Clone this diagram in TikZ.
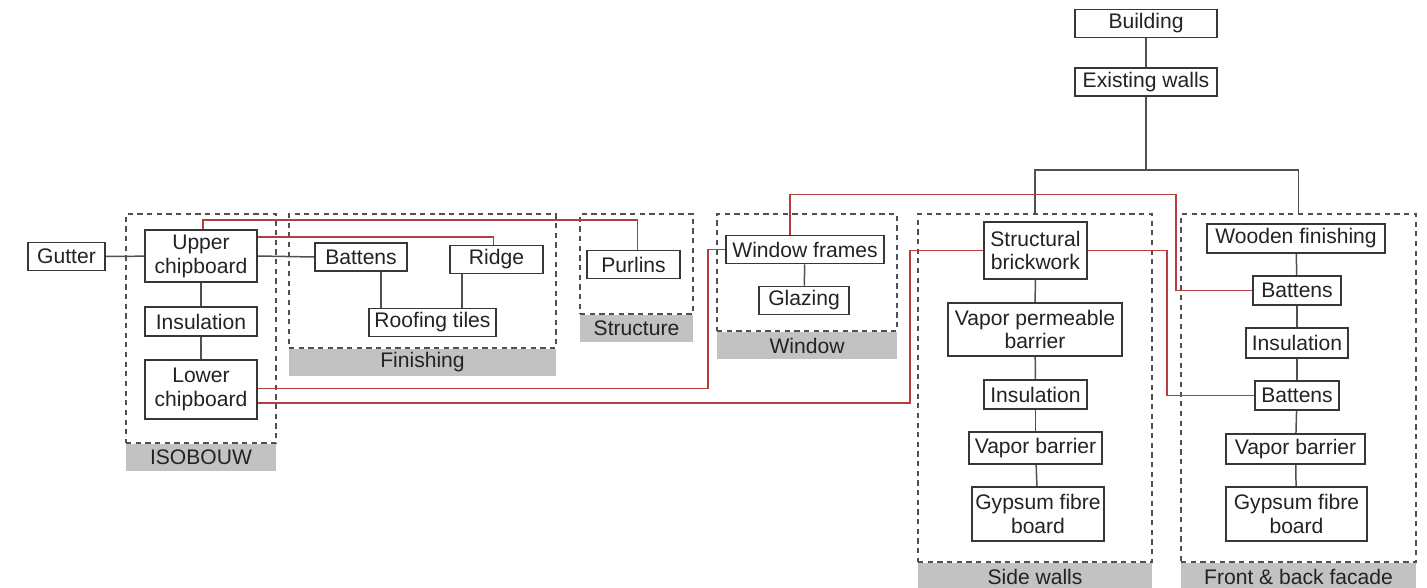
\documentclass[tikz,border=0pt]{standalone}
\usepackage{fontspec}
\setmainfont{Liberation Sans}
\usetikzlibrary{calc}
\definecolor{boxgray}{RGB}{55,55,55}
\definecolor{linkgray}{RGB}{80,80,80}
\definecolor{linkred}{RGB}{180,62,60}
\definecolor{tabgray}{RGB}{194,194,194}
\definecolor{txtdark}{RGB}{35,35,35}
\tikzset{
  box/.style={rectangle, draw=boxgray, fill=white, text=txtdark,
    align=center, inner sep=0pt, minimum height=0.56cm,
    font=\fontsize{12}{13.6}\selectfont, line width=1pt},
  tallbox/.style={box, minimum height=1.08cm},
  group/.style={rectangle, draw=linkgray, dash pattern=on 3pt off 2.5pt,
    line width=0.8pt, inner sep=0pt},
  tab/.style={rectangle, fill=tabgray, text=txtdark, anchor=north,
    inner sep=0pt, minimum height=0.54cm, font=\fontsize{12}{13.6}\selectfont},
  link/.style={linkgray, line width=0.85pt},
  redlink/.style={linkred, line width=0.85pt}
}
\begin{document}
\begin{tikzpicture}[x=0.02cm, y=-0.02cm]
  \useasboundingbox (0,0) rectangle (1427,588);

  % groups
  \node[group, minimum width=3.00cm, minimum height=4.58cm] (isoG) at (201,328.5) {};
  \node[tab, minimum width=3.00cm] (isoL) at (isoG.south) {ISOBOUW};
  \node[group, minimum width=5.34cm, minimum height=2.68cm] (finG) at (422.5,281) {};
  \node[tab, minimum width=5.34cm] (finL) at (finG.south) {Finishing};
  \node[group, minimum width=2.26cm, minimum height=2.00cm] (strG) at (636.5,264) {};
  \node[tab, minimum width=2.26cm] (strL) at (strG.south) {Structure};
  \node[group, minimum width=3.60cm, minimum height=2.34cm] (winG) at (807,272.5) {};
  \node[tab, minimum width=3.60cm] (winL) at (winG.south) {Window};
  \node[group, minimum width=4.68cm, minimum height=6.96cm] (sideG) at (1035,388) {};
  \node[tab, minimum width=4.68cm] (sideL) at (sideG.south) {Side walls};
  \node[group, minimum width=4.70cm, minimum height=6.96cm] (frontG) at (1298.5,388) {};
  \node[tab, minimum width=4.70cm] (frontL) at (frontG.south) {Front \& back facade};

  % top
  \node[box, minimum width=2.84cm] (building) at (1146,23.5) {Building};
  \node[box, minimum width=2.84cm] (exist) at (1146,82) {Existing walls};
  \coordinate (split) at (1146,170);

  % ISOBOUW
  \node[box, minimum width=1.54cm] (gutter) at (66.5,256.5) {Gutter};
  \node[tallbox, minimum width=2.24cm, minimum height=1.04cm] (upper) at (201,256) {Upper\\chipboard};
  \node[box, minimum width=2.24cm, minimum height=0.58cm] (isoins) at (201,321.5) {Insulation};
  \node[tallbox, minimum width=2.24cm, minimum height=1.18cm] (lower) at (201,389.5) {Lower\\chipboard};

  % Finishing
  \node[box, minimum width=1.84cm] (finbat) at (361,257) {Battens};
  \node[box, minimum width=1.86cm] (ridge) at (496.5,259.5) {Ridge};
  \node[box, minimum width=2.54cm] (tiles) at (432.5,322.5) {Roofing tiles};

  % Structure
  \node[box, minimum width=1.86cm] (purlins) at (633.5,264.5) {Purlins};

  % Window
  \node[box, minimum width=3.16cm] (wframe) at (805,249.5) {Window frames};
  \node[box, minimum width=1.80cm] (glazing) at (804,300.5) {Glazing};

  % Side walls
  \node[tallbox, minimum width=2.06cm, minimum height=1.14cm] (brick) at (1035.5,250.5) {Structural\\brickwork};
  \node[tallbox, minimum width=3.48cm, minimum height=1.06cm] (vpb) at (1035,329.5) {Vapor permeable\\barrier};
  \node[box, minimum width=2.06cm, minimum height=0.58cm] (swins) at (1035.5,394.5) {Insulation};
  \node[box, minimum width=2.66cm, minimum height=0.64cm] (swvap) at (1035.5,448) {Vapor barrier};
  \node[tallbox, minimum width=2.64cm] (swgyp) at (1038,514) {Gypsum fibre\\board};

  % Front & back facade
  \node[box, minimum width=3.56cm, minimum height=0.58cm] (wood) at (1296,238.5) {Wooden finishing};
  \node[box, minimum width=1.76cm, minimum height=0.58cm] (bat1) at (1297,290.5) {Battens};
  \node[box, minimum width=2.04cm, minimum height=0.60cm] (fbins) at (1297,343) {Insulation};
  \node[box, minimum width=1.68cm, minimum height=0.58cm] (bat2) at (1297,395.5) {Battens};
  \node[box, minimum width=2.78cm, minimum height=0.60cm] (fbvap) at (1295.5,449) {Vapor barrier};
  \node[tallbox, minimum width=2.82cm] (fbgyp) at (1296.5,514) {Gypsum fibre\\board};

  % hierarchy
  \draw[link] (building) -- (exist);
  \draw[link] (exist) -- (split);
  \draw[link] (sideG.north) |- (split) -| (frontG.north);
  \draw[link] (gutter) -- (upper);
  \draw[link] (upper) -- (isoins);
  \draw[link] (isoins) -- (lower);
  \draw[link] (upper.east) -- (finbat.west);
  \draw[link] ([xshift=-1.03cm]tiles.north) -- ([xshift=-1.03cm]tiles.north |- finbat.south);
  \draw[link] ([xshift=0.59cm]tiles.north) -- ([xshift=0.59cm]tiles.north |- ridge.south);
  \draw[link] (wframe) -- (glazing);
  \draw[link] (brick) -- (vpb);
  \draw[link] (vpb) -- (swins);
  \draw[link] (swins) -- (swvap);
  \draw[link] (swvap) -- (swgyp);
  \draw[link] (wood) -- (bat1);
  \draw[link] (bat1) -- (fbins);
  \draw[link] (fbins) -- (bat2);
  \draw[link] (bat2) -- (fbvap);
  \draw[link] (fbvap) -- (fbgyp);

  % cross links
  \draw[redlink] ([xshift=0.04cm]upper.north) -- ++(0,-9) -| ([xshift=0.08cm]purlins.north);
  \draw[redlink] ([yshift=0.38cm]upper.east) -| ([xshift=-0.06cm]ridge.north);
  \draw[redlink] ([yshift=0.02cm]lower.east) -- ++(450,0) |- (wframe.west);
  \draw[redlink] ([yshift=-0.27cm]lower.east) -- ++(652,0) |- (brick.west);
  \draw[redlink] ([xshift=-0.3cm]wframe.north) -- ++(0,-40) -- ++(386,0) |- (bat1.west);
  \draw[redlink] (brick.east) -- ++(79,0) |- (bat2.west);
\end{tikzpicture}
\end{document}
